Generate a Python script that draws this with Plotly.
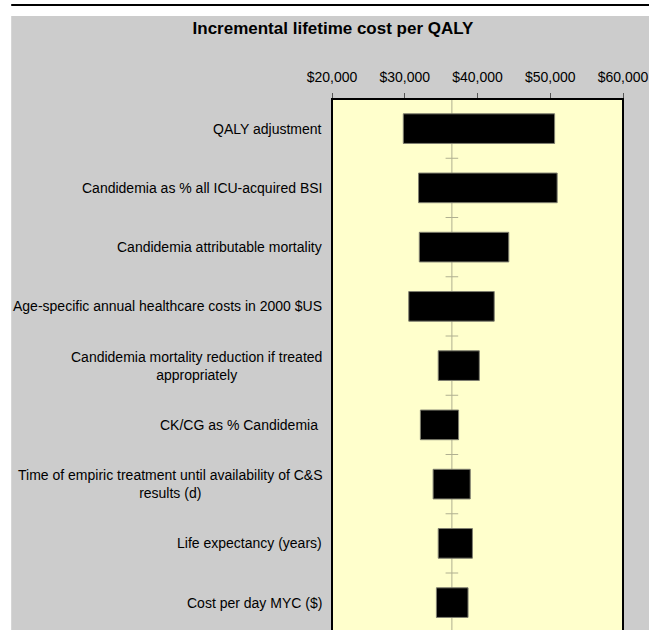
import plotly.graph_objects as go

# ---------------- data ----------------
labels = [
    "QALY adjustment",
    "Candidemia as % all ICU-acquired BSI",
    "Candidemia attributable mortality",
    "Age-specific annual healthcare costs in 2000 $US",
    "Candidemia mortality reduction if treated<br>appropriately",
    "CK/CG as % Candidemia ",
    "Time of empiric treatment until availability of C&S<br>results (d)",
    "Life expectancy (years)",
    "Cost per day MYC ($)",
]
low_values = [29800, 31900, 32000, 30550, 34600, 32150, 33900, 34600, 34350]
high_values = [50600, 50950, 44300, 42300, 40250, 37400, 39000, 39300, 38700]
base_case = 36480
x_ticks = [20000, 30000, 40000, 50000, 60000]
title_text = "Incremental lifetime cost per QALY"

# ---------------- layout constants (pixels) ----------------
W, H = 649, 630
L, R, T = 332, 625, 99          # plot area left / right / top
B = H                            # plot area runs to the bottom edge (cut off)
ROW = 59.25                      # pixel height of one category row
FONT = "Liberation Sans, Arial, sans-serif"

pw, ph = R - L, B - T


def px_x(p):
    return (p - L) / pw


def px_y(p):
    return (B - p) / ph


n = len(labels)
pos = list(range(n))
widths = [h - l for h, l in zip(high_values, low_values)]

fig = go.Figure()

fig.add_trace(go.Bar(
    y=pos, x=widths, base=low_values, orientation="h", width=0.5,
    marker=dict(color="black", line=dict(color="#7f7f70", width=1)),
    hoverinfo="skip", showlegend=False,
))

# small tick marks on the base-case axis, between categories
fig.add_trace(go.Scatter(
    x=[base_case] * n, y=[i + 0.5 for i in pos], mode="markers",
    marker=dict(symbol="line-ew", size=9, line=dict(color="#b0b090", width=1)),
    hoverinfo="skip", showlegend=False, cliponaxis=True,
))

shapes = [
    # base-case vertical axis
    dict(type="line", xref="x", yref="paper", x0=base_case, x1=base_case,
         y0=-0.1, y1=1, line=dict(color="#b0b090", width=1), layer="below"),
    # plot border
    dict(type="rect", xref="paper", yref="paper", x0=0, x1=1, y0=-0.1, y1=1,
         line=dict(color="black", width=2), fillcolor="rgba(0,0,0,0)", layer="above"),
    # white strips (page margin)
    dict(type="rect", xref="paper", yref="paper", x0=px_x(-5), x1=px_x(W + 5),
         y0=px_y(16), y1=px_y(-5), line=dict(width=0), fillcolor="white", layer="above"),
    dict(type="rect", xref="paper", yref="paper", x0=px_x(-5), x1=px_x(9),
         y0=px_y(H + 5), y1=px_y(-5), line=dict(width=0), fillcolor="white", layer="above"),
    # black rule at top
    dict(type="line", xref="paper", yref="paper", x0=px_x(9), x1=px_x(W + 5),
         y0=px_y(5), y1=px_y(5), line=dict(color="black", width=2), layer="above"),
]

annotations = []
for i, lab in enumerate(labels):
    annotations.append(dict(
        xref="paper", yref="y", x=0, y=i, text=lab, showarrow=False,
        xanchor="right", yanchor="middle", align="center", xshift=-8,
        font=dict(family=FONT, size=14, color="black"),
    ))

fig.update_layout(
    width=W, height=H,
    margin=dict(l=L, r=W - R, t=T, b=0, pad=0),
    paper_bgcolor="#cccccc",
    plot_bgcolor="#ffffcc",
    title=dict(text="<b>" + title_text + "</b>", x=333 / W,
               xanchor="center", y=1 - 28 / H, yanchor="middle", yref="container",
               font=dict(family=FONT, size=17, color="black")),
    xaxis=dict(range=[x_ticks[0], x_ticks[-1]], side="top", tickvals=x_ticks,
               tickformat="$,.0f", ticks="outside", ticklen=5, tickcolor="#555",
               tickwidth=1, showgrid=False, zeroline=False, showline=False,
               ticklabelstandoff=5, ticklabeloverflow="allow",
               tickfont=dict(family=FONT, size=14, color="black")),
    yaxis=dict(range=[-0.5 + ph / ROW, -0.5], showticklabels=False, ticks="",
               showgrid=False, zeroline=False, showline=False),
    shapes=shapes,
    annotations=annotations,
    showlegend=False,
)

fig.write_html(
    "out.html",
    config={"displayModeBar": False},
    post_script="document.body.style.margin='0px';document.body.style.overflow='hidden';",
)
